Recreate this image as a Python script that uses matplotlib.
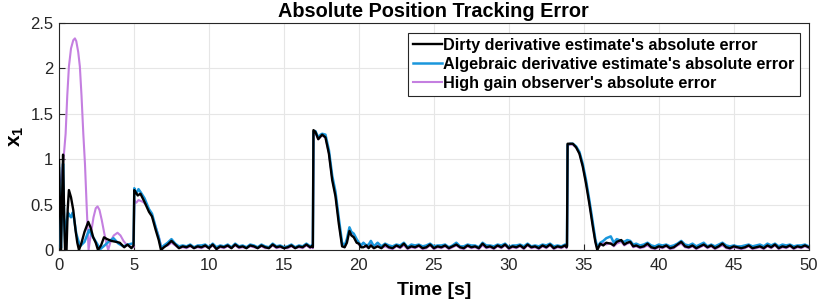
import numpy as np
import matplotlib.pyplot as plt

plt.rcParams['font.family'] = ['Liberation Sans', 'DejaVu Sans']
plt.rcParams['mathtext.fontset'] = 'custom'
plt.rcParams['mathtext.bf'] = 'Liberation Sans:bold'
plt.rcParams['mathtext.rm'] = 'Liberation Sans'

# ---- start-up transient (0-7 s), each series sampled where it bends ----
dirty_t0 = [0, 0.06, 0.13, 0.2, 0.27, 0.34, 0.4, 0.5, 0.58, 0.66,
            0.8, 0.95, 1.1, 1.22, 1.33, 1.5, 1.7, 1.95, 2.1, 2.28,
            2.45, 2.6, 2.8, 3.0, 3.2, 3.5, 3.8, 4.05, 4.35, 4.57,
            4.83, 4.97, 5.02, 5.1, 5.25, 5.43, 5.7, 6.0, 6.2, 6.45,
            6.65, 6.8, 7.0]
dirty_v0 = [0.99, 0.5, 0.0, 0.55, 1.05, 0.4, 0.0, 0.0, 0.45, 0.66,
            0.58, 0.44, 0.22, 0.08, 0.0, 0.08, 0.2, 0.31, 0.25, 0.14,
            0.08, 0.0, 0.05, 0.14, 0.12, 0.1, 0.09, 0.08, 0.03, 0.06,
            0.02, 0.05, 0.66, 0.64, 0.6, 0.62, 0.53, 0.42, 0.37, 0.22,
            0.11, 0.0, 0.03]

alg_t0 = [0, 0.06, 0.13, 0.2, 0.27, 0.34, 0.42, 0.5, 0.6, 0.7,
          0.8, 0.9, 1.0, 1.15, 1.4, 1.7, 2.0, 2.2, 2.5, 2.75,
          2.97, 3.3, 3.63, 3.97, 4.3, 4.6, 4.85, 4.98, 5.02, 5.15,
          5.3, 5.43, 5.7, 6.0, 6.2, 6.45, 6.65, 6.82, 7.0]
alg_v0 = [0.9, 0.45, 0.02, 0.5, 0.95, 0.35, 0.05, 0.3, 0.41, 0.38,
          0.36, 0.41, 0.35, 0.18, 0.04, 0.09, 0.22, 0.16, 0.08, 0.01,
          0.04, 0.09, 0.13, 0.07, 0.04, 0.06, 0.07, 0.07, 0.68, 0.62,
          0.67, 0.64, 0.57, 0.45, 0.4, 0.25, 0.14, 0.02, 0.05]

hg_t0 = [0, 0.14, 0.3, 0.44, 0.55, 0.66, 0.8, 0.95, 1.06, 1.15,
         1.28, 1.39, 1.5, 1.62, 1.73, 1.84, 1.97, 2.1, 2.3, 2.45,
         2.57, 2.7, 2.85, 3.0, 3.15, 3.28, 3.45, 3.65, 3.9, 4.1,
         4.3, 4.5, 4.7, 4.98, 5.02, 5.15, 5.3, 5.45, 5.6, 5.8,
         6.0, 6.2, 6.45, 6.65, 6.82, 7.0]
hg_v0 = [0.72, 0.78, 1.0, 1.28, 1.7, 2.02, 2.22, 2.31, 2.33, 2.3,
         2.18, 2.02, 1.7, 1.28, 0.95, 0.5, 0.0, 0.15, 0.36, 0.46,
         0.48, 0.44, 0.33, 0.2, 0.08, 0.0, 0.1, 0.16, 0.19, 0.16,
         0.1, 0.06, 0.04, 0.03, 0.55, 0.52, 0.55, 0.54, 0.53, 0.5,
         0.44, 0.38, 0.25, 0.15, 0.03, 0.04]

# ---- steady stretches, sampled every 0.25 s ----
quiet_a_t = np.arange(7.25, 16.76, 0.25)
dirty_qa = [0.06, 0.10, 0.06, 0.02, 0.04, 0.03, 0.05, 0.02, 0.04, 0.03,
            0.05, 0.02, 0.06, 0.01, 0.04, 0.03, 0.05, 0.02, 0.06, 0.03,
            0.04, 0.02, 0.05, 0.04, 0.02, 0.05, 0.03, 0.02, 0.06, 0.03,
            0.04, 0.02, 0.03, 0.05, 0.02, 0.04, 0.03, 0.06, 0.03]
alg_qa = [0.08, 0.12, 0.07, 0.04, 0.05, 0.04, 0.06, 0.03, 0.05, 0.05,
          0.06, 0.03, 0.07, 0.03, 0.05, 0.04, 0.06, 0.03, 0.07, 0.04,
          0.05, 0.03, 0.06, 0.05, 0.03, 0.06, 0.04, 0.03, 0.07, 0.04,
          0.05, 0.03, 0.04, 0.06, 0.03, 0.05, 0.04, 0.07, 0.04]
hg_qa = [0.05, 0.08, 0.05, 0.02, 0.03, 0.02, 0.04, 0.02, 0.03, 0.02,
         0.04, 0.02, 0.05, 0.01, 0.03, 0.02, 0.04, 0.02, 0.05, 0.02,
         0.03, 0.02, 0.04, 0.03, 0.02, 0.04, 0.02, 0.02, 0.05, 0.02,
         0.03, 0.02, 0.02, 0.04, 0.02, 0.03, 0.02, 0.05, 0.02]

# ---- step at ~17 s ----
step1_t = [16.85, 16.93, 16.97, 17.1, 17.29, 17.45, 17.55, 17.77, 18.0, 18.22,
           18.44, 18.66, 18.88, 19.05, 19.2, 19.37, 19.5, 19.66, 19.85, 20.0,
           20.15, 20.3, 20.5, 20.65, 20.8, 21.0]
dirty_s1 = [0.04, 0.03, 1.32, 1.30, 1.22, 1.25, 1.27, 1.24, 1.06, 0.77,
            0.59, 0.29, 0.04, 0.03, 0.08, 0.21, 0.16, 0.14, 0.08, 0.07,
            0.03, 0.03, 0.05, 0.02, 0.05, 0.02]
alg_s1 = [0.05, 0.04, 1.30, 1.31, 1.24, 1.27, 1.28, 1.27, 1.10, 0.82,
          0.64, 0.35, 0.08, 0.05, 0.12, 0.25, 0.2, 0.18, 0.12, 0.08,
          0.05, 0.08, 0.05, 0.06, 0.1, 0.04]
hg_s1 = [0.03, 0.02, 1.28, 1.29, 1.22, 1.25, 1.26, 1.24, 1.07, 0.79,
         0.61, 0.32, 0.05, 0.03, 0.1, 0.22, 0.17, 0.15, 0.1, 0.06,
         0.05, 0.08, 0.03, 0.04, 0.07, 0.02]

quiet_b_t = np.arange(21.25, 33.76, 0.25)
dirty_qb = [0.04, 0.02, 0.06, 0.03, 0.02, 0.05, 0.03, 0.07, 0.02, 0.04,
            0.03, 0.05, 0.02, 0.03, 0.06, 0.02, 0.04, 0.03, 0.05, 0.02,
            0.04, 0.06, 0.03, 0.02, 0.05, 0.03, 0.04, 0.02, 0.07, 0.03,
            0.04, 0.02, 0.05, 0.03, 0.06, 0.02, 0.04, 0.03, 0.05, 0.02,
            0.06, 0.03, 0.04, 0.02, 0.05, 0.03, 0.06, 0.02, 0.04, 0.03,
            0.05]
alg_qb = [0.08, 0.04, 0.07, 0.05, 0.04, 0.06, 0.05, 0.08, 0.03, 0.06,
          0.05, 0.06, 0.04, 0.05, 0.07, 0.04, 0.05, 0.05, 0.06, 0.03,
          0.05, 0.08, 0.04, 0.04, 0.06, 0.05, 0.05, 0.03, 0.08, 0.05,
          0.05, 0.04, 0.06, 0.05, 0.07, 0.03, 0.05, 0.05, 0.06, 0.04,
          0.07, 0.04, 0.05, 0.04, 0.06, 0.05, 0.07, 0.04, 0.05, 0.04,
          0.06]
hg_qb = [0.05, 0.02, 0.04, 0.02, 0.01, 0.04, 0.02, 0.05, 0.01, 0.03,
         0.02, 0.04, 0.01, 0.02, 0.05, 0.01, 0.03, 0.02, 0.04, 0.01,
         0.03, 0.05, 0.02, 0.01, 0.04, 0.02, 0.03, 0.01, 0.05, 0.02,
         0.03, 0.01, 0.04, 0.02, 0.05, 0.01, 0.03, 0.02, 0.04, 0.01,
         0.05, 0.02, 0.03, 0.01, 0.04, 0.02, 0.05, 0.01, 0.03, 0.02,
         0.04]

# ---- step at ~34 s ----
step2_t = [33.85, 33.88, 33.92, 34.1, 34.27, 34.49, 34.71, 34.93, 35.15, 35.37,
           35.6, 35.77, 35.9, 36.1, 36.3, 36.5, 36.8, 37.0, 37.2, 37.5,
           37.7, 37.9, 38.1, 38.3, 38.5]
dirty_s2 = [0.03, 0.04, 1.17, 1.17, 1.17, 1.13, 1.06, 0.92, 0.73, 0.51,
            0.26, 0.09, 0.0, 0.07, 0.05, 0.08, 0.07, 0.05, 0.09, 0.11,
            0.06, 0.08, 0.09, 0.04, 0.05]
alg_s2 = [0.04, 0.05, 1.16, 1.17, 1.17, 1.14, 1.08, 0.95, 0.77, 0.55,
          0.30, 0.12, 0.03, 0.08, 0.1, 0.13, 0.15, 0.08, 0.12, 0.1,
          0.09, 0.11, 0.1, 0.06, 0.07]
hg_s2 = [0.02, 0.03, 1.15, 1.16, 1.16, 1.13, 1.07, 0.93, 0.75, 0.53,
         0.28, 0.1, 0.02, 0.05, 0.08, 0.06, 0.08, 0.04, 0.07, 0.09,
         0.05, 0.07, 0.08, 0.03, 0.04]

quiet_c_t = np.arange(38.75, 50.01, 0.25)
dirty_qc = [0.03, 0.04, 0.07, 0.03, 0.02, 0.04, 0.03, 0.05, 0.02, 0.03,
            0.06, 0.09, 0.04, 0.03, 0.05, 0.02, 0.04, 0.06, 0.03, 0.05,
            0.02, 0.04, 0.07, 0.03, 0.02, 0.04, 0.03, 0.02, 0.03, 0.05,
            0.02, 0.03, 0.04, 0.02, 0.05, 0.03, 0.06, 0.02, 0.04, 0.03,
            0.05, 0.02, 0.04, 0.03, 0.05, 0.03]
alg_qc = [0.05, 0.06, 0.08, 0.05, 0.04, 0.06, 0.05, 0.06, 0.04, 0.05,
          0.07, 0.1, 0.06, 0.05, 0.07, 0.04, 0.06, 0.08, 0.04, 0.06,
          0.04, 0.06, 0.08, 0.05, 0.04, 0.05, 0.04, 0.04, 0.05, 0.06,
          0.04, 0.05, 0.06, 0.04, 0.07, 0.05, 0.07, 0.04, 0.06, 0.05,
          0.06, 0.04, 0.05, 0.05, 0.06, 0.04]
hg_qc = [0.02, 0.03, 0.05, 0.02, 0.01, 0.03, 0.02, 0.04, 0.01, 0.02,
         0.05, 0.07, 0.03, 0.02, 0.04, 0.01, 0.03, 0.05, 0.02, 0.04,
         0.01, 0.03, 0.05, 0.02, 0.01, 0.03, 0.02, 0.01, 0.02, 0.04,
         0.01, 0.02, 0.03, 0.01, 0.04, 0.02, 0.05, 0.01, 0.03, 0.02,
         0.04, 0.01, 0.03, 0.02, 0.04, 0.02]

labels = ["Dirty derivative estimate's absolute error",
          "Algebraic derivative estimate's absolute error",
          "High gain observer's absolute error"]
x_ticks = list(range(0, 51, 5))
y_ticks = [0, 0.5, 1, 1.5, 2, 2.5]
y_tick_labels = ["0", "0.5", "1", "1.5", "2", "2.5"]


def join(t0, v0, qa, s1, qb, s2, qc):
    t = np.concatenate([t0, quiet_a_t, step1_t, quiet_b_t, step2_t, quiet_c_t])
    v = np.concatenate([v0, qa, s1, qb, s2, qc])
    return t, v


dirty = join(dirty_t0, dirty_v0, dirty_qa, dirty_s1, dirty_qb, dirty_s2, dirty_qc)
alg = join(alg_t0, alg_v0, alg_qa, alg_s1, alg_qb, alg_s2, alg_qc)
hg = join(hg_t0, hg_v0, hg_qa, hg_s1, hg_qb, hg_s2, hg_qc)

fig = plt.figure(figsize=(8.22, 3.06), dpi=100)
ax = fig.add_axes([0.0718, 0.183, 0.912, 0.742])

h3, = ax.plot(*hg, color='#c47fe0', lw=1.5, zorder=2)
h2, = ax.plot(*alg, color='#1a97dc', lw=1.8, zorder=3)
h1, = ax.plot(*dirty, color='black', lw=1.7, zorder=4)

ax.set_xlim(0, 50)
ax.set_ylim(0, 2.5)
ax.set_xticks(x_ticks)
ax.set_xticklabels([str(x) for x in x_ticks])
ax.set_yticks(y_ticks)
ax.set_yticklabels(y_tick_labels)
ax.grid(True, color='#e6e6e6', lw=0.8)
ax.set_axisbelow(True)
for s in ax.spines.values():
    s.set_color('#262626')
    s.set_linewidth(0.8)
ax.tick_params(axis='x', direction='in', length=4, labelsize=12, colors='#262626', pad=6)
ax.tick_params(axis='y', direction='in', length=4, labelsize=12, colors='#262626', pad=4)

ax.set_title('Absolute Position Tracking Error', fontsize=14.3, fontweight='bold', pad=4)
ax.set_xlabel('Time [s]', fontsize=14, fontweight='bold', labelpad=6)
ax.set_ylabel(r'$\mathbf{x_1}$', fontsize=15, labelpad=3)

leg = ax.legend([h1, h2, h3], labels, loc='upper right',
                prop={'weight': 'bold', 'size': 11.7},
                bbox_to_anchor=(0.988, 0.956), borderaxespad=0,
                handlelength=1.8, handletextpad=0.1, labelspacing=0.25,
                borderpad=0.3, fancybox=False, framealpha=1)
leg.get_frame().set_edgecolor('#262626')
leg.get_frame().set_linewidth(0.8)

fig.savefig('out.png', dpi=100)
